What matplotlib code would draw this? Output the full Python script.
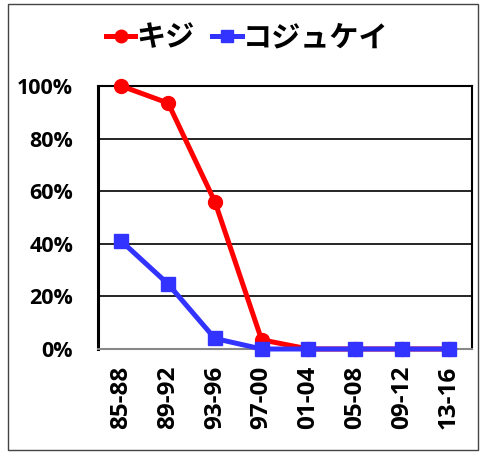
import matplotlib; matplotlib.use('Agg')
import numpy as np
from matplotlib import pyplot as plt
from matplotlib.patches import Rectangle

plt.rcParams['font.family'] = ['Open Sans', 'Noto Sans CJK JP', 'DejaVu Sans']
plt.rcParams['font.weight'] = 'bold'

periods = ['85-88', '89-92', '93-96', '97-00', '01-04', '05-08', '09-12', '13-16']
kiji = [100, 93.5, 56, 3.5, 0, 0, 0, 0]
kojukei = [41, 24.7, 4, 0, 0, 0, 0, 0]

fig = plt.figure(figsize=(4.83, 4.54), dpi=100)
ax = fig.add_axes([98/483, 1 - 349/454, 374/483, 263/454])

x = np.arange(len(periods))
ax.plot(x, kiji, color='#ff0000', lw=3.6, marker='o', ms=10, label='キジ',
        clip_on=False, zorder=3)
ax.plot(x, kojukei, color='#3333ff', lw=3.6, marker='s', ms=10, label='コジュケイ',
        clip_on=False, zorder=4)

ax.set_xlim(-0.5, len(periods) - 0.5)
ax.set_ylim(0, 100)
ax.set_yticks(range(0, 101, 20))
ax.set_yticklabels([f'{v}%' for v in range(0, 101, 20)], fontsize=15.5, fontweight='bold')
ax.set_xticks(x)
ax.set_xticklabels(periods, rotation=90, fontsize=17.5, fontweight='bold')
ax.tick_params(length=0)
ax.tick_params(axis='y', pad=18)
ax.tick_params(axis='x', pad=12)
ax.yaxis.grid(True, color='black', lw=1.2)
ax.set_axisbelow(True)
for side in ['left', 'top', 'right']:
    ax.spines[side].set_color('black')
    ax.spines[side].set_linewidth(1.5)
ax.spines['left'].set_linewidth(2.2)
ax.spines['bottom'].set_color('#888888')
ax.spines['bottom'].set_linewidth(1.5)

fig.legend(loc='center', bbox_to_anchor=(0.512, 1 - 37/454), ncol=2, frameon=False,
           handlelength=1.0, handletextpad=0.05, columnspacing=0.6, markerscale=0.9,
           prop={'family': ['Noto Sans CJK JP'], 'weight': 'bold', 'size': 21})

# outer frame
fig.patches.append(Rectangle((8/483, 4/454), 470/483, 446/454, transform=fig.transFigure,
                             fill=False, edgecolor='#444444', lw=1.0))

plt.savefig('out.png', dpi=100)
plt.close()
